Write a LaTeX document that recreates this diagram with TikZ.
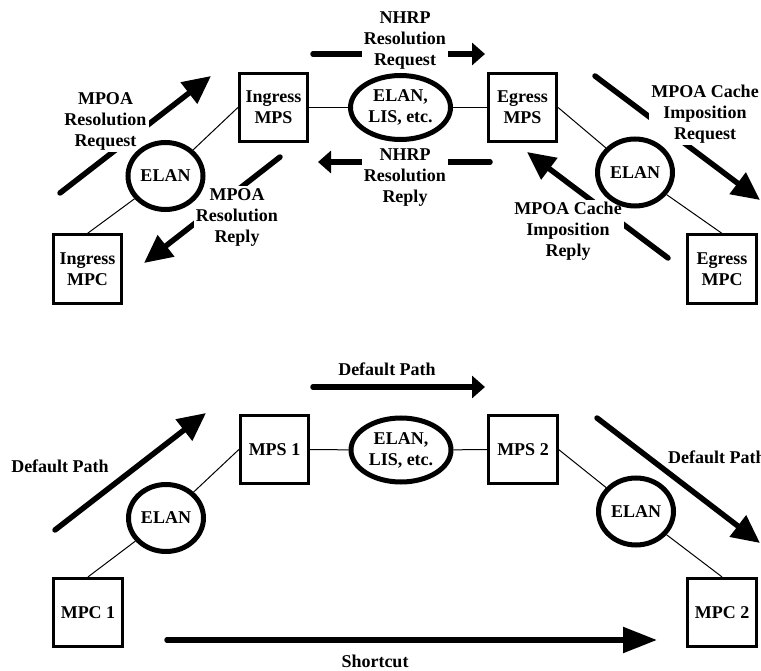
\documentclass[tikz,border=0pt]{standalone}
\usepackage{fontspec}
\setmainfont{Liberation Serif}
\usetikzlibrary{arrows.meta,shapes.geometric}

\tikzset{
  lbl/.style={font=\fontsize{18}{21}\selectfont\bfseries, align=center},
  box/.style={lbl, draw, line width=2.7pt, inner sep=0pt,
    minimum width=68.5pt, minimum height=68.5pt},
  lan/.style={lbl, ellipse, draw, line width=5pt, inner sep=0pt,
    minimum width=75pt, minimum height=67pt},
  core/.style={lan, minimum width=100pt, minimum height=64pt},
  link/.style={line width=1pt},
  flow/.style={line width=5.5pt, line cap=round, -{Triangle[length=28pt,width=26pt]}},
  flat/.style={line width=5.5pt, line cap=round, -{Triangle[length=13pt,width=22pt]}},
  tag/.style={lbl, fill=white, inner sep=2pt},
}

\begin{document}
\begin{tikzpicture}[x=1pt,y=-1pt]
  \useasboundingbox (0,0) rectangle (761,671);

  % resolution messages
  \coordinate (rq1) at (60,193);   \coordinate (rq2) at (211,76);
  \coordinate (rp1) at (280,157);  \coordinate (rp2) at (144,263);
  \coordinate (nq1) at (313,54);   \coordinate (nq2) at (485,54);
  \coordinate (np1) at (490,162);  \coordinate (np2) at (318,162);
  \coordinate (cq1) at (595,76);   \coordinate (cq2) at (760,200);
  \coordinate (cp1) at (668,258);  \coordinate (cp2) at (527,152);

  \draw[flow] (rq1) -- (rq2);
  \draw[flow] (rp1) -- (rp2);
  \draw[flat] (nq1) -- (nq2);
  \draw[flat] (np1) -- (np2);
  \draw[flow] (cq1) -- (cq2);
  \draw[flow] (cp1) -- (cp2);

  \node[tag] (rqtag) at (105.5,121) {MPOA\\Resolution\\Request};
  \node[tag] (rptag) at (237,217) {MPOA\\Resolution\\Reply};
  \node[tag] (nqtag) at (405,41) {NHRP\\Resolution\\Request};
  \node[tag] (nptag) at (405,178) {NHRP\\Resolution\\Reply};
  \node[tag] (cqtag) at (705,114) {MPOA Cache\\Imposition\\Request};
  \node[tag] (cptag) at (568,231) {MPOA Cache\\Imposition\\Reply};

  \node[box] (IMPS) at (273.5,107.5) {Ingress\\MPS};
  \node[box] (IMPC) at (87.5,269) {Ingress\\MPC};
  \node[lan] (ELANa) at (165.5,176) {ELAN};
  \node[core] (LISa) at (400.5,107.5) {ELAN,\\LIS, etc.};
  \node[box] (EMPS) at (522.5,107.5) {Egress\\MPS};
  \node[lan] (ELANb) at (635,172.5) {ELAN};
  \node[box] (EMPC) at (722,269) {Egress\\MPC};

  \draw[link] (IMPS.west) -- (ELANa) -- (IMPC.north);
  \draw[link] (IMPS) -- (LISa) -- (EMPS);
  \draw[link] (EMPS.east) -- (ELANb) -- (EMPC.north);

  % data paths
  \coordinate (dt1) at (313,387);  \coordinate (dt2) at (485,387);
  \coordinate (dl1) at (55,530);   \coordinate (dl2) at (206,413);
  \coordinate (dr1) at (597,418);  \coordinate (dr2) at (760,543);
  \coordinate (sc1) at (167,640);  \coordinate (sc2) at (657,640);

  \draw[flat] (dt1) -- (dt2);
  \draw[flow] (dl1) -- (dl2);
  \draw[flow] (dr1) -- (dr2);
  \draw[line width=5.5pt, line cap=round, -{Triangle[length=34pt,width=25pt]}] (sc1) -- (sc2);

  \node[lbl] (dttag) at (387,369) {Default Path};
  \node[lbl] (dltag) at (60,466) {Default Path};
  \node[lbl, anchor=west, inner sep=0pt] (drtag) at (668,457) {Default Path};
  \node[lbl] (sctag) at (375,661) {Shortcut};

  \node[box] (MPS1) at (274.5,449.5) {MPS 1};
  \node[box] (MPC1) at (88,612.5) {MPC 1};
  \node[lan] (ELANc) at (166,518) {ELAN};
  \node[core] (LISb) at (401,450) {ELAN,\\LIS, etc.};
  \node[box] (MPS2) at (523,449.5) {MPS 2};
  \node[lan] (ELANd) at (636,511.5) {ELAN};
  \node[box] (MPC2) at (722,612.5) {MPC 2};

  \draw[link] (MPS1.west) -- (ELANc) -- (MPC1.north);
  \draw[link] (MPS1) -- (LISb) -- (MPS2);
  \draw[link] (MPS2.east) -- (ELANd) -- (MPC2.north);
\end{tikzpicture}
\end{document}
